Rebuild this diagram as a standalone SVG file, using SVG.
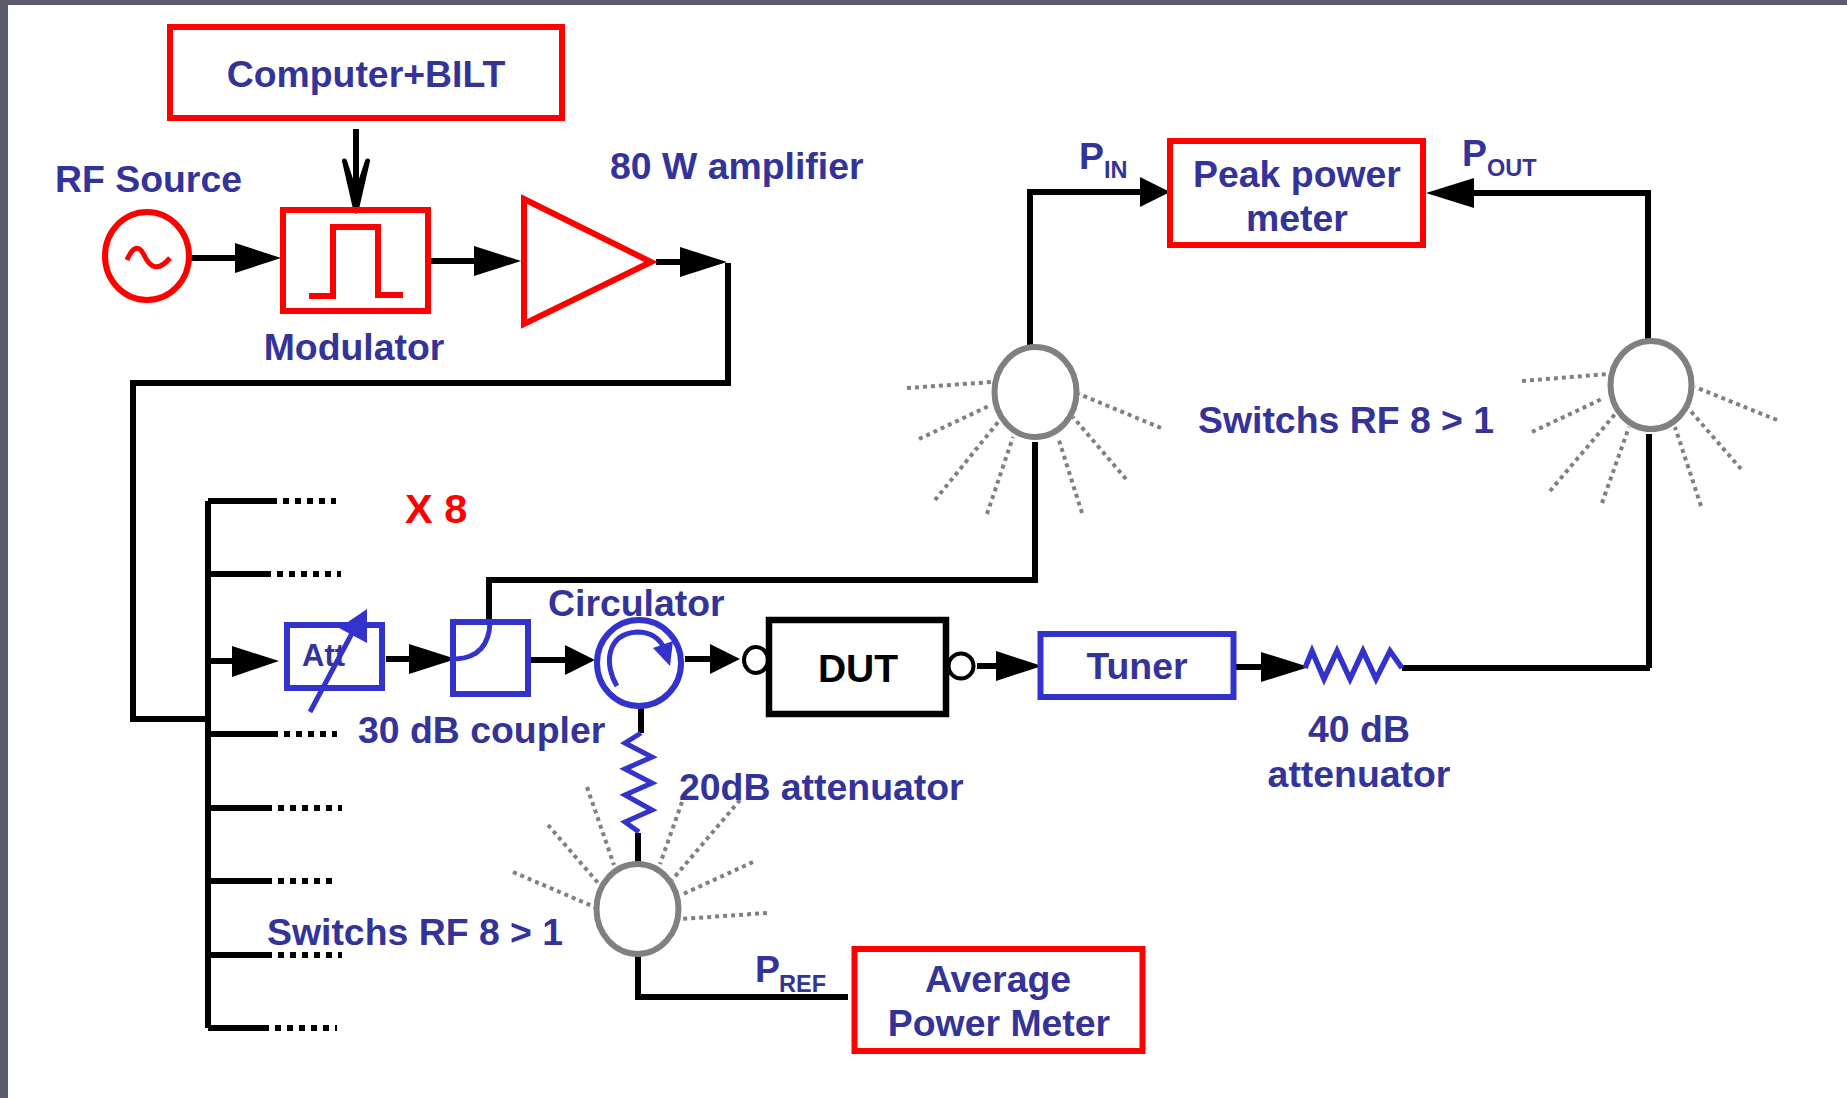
<svg xmlns="http://www.w3.org/2000/svg" width="1847" height="1098" viewBox="0 0 1847 1098">
<style>
text{font-family:"Liberation Sans",Arial,sans-serif;font-weight:700;font-size:37.400px;fill:#333399}
.sub{font-size:23.500px}
.red{fill:none;stroke:#ff0000;stroke-width:6}
.blue{fill:none;stroke:#3333cc;stroke-width:6}
.blk{fill:none;stroke:#000;stroke-width:6}
.sw{fill:#fff;stroke:#808080;stroke-width:6}
.spoke{fill:none;stroke:#808080;stroke-width:4;stroke-dasharray:4 4}
.dots{fill:none;stroke:#000;stroke-width:6;stroke-dasharray:6 6;stroke-dashoffset:6}
.head{fill:#000}
</style>
<rect width="1847" height="1098" fill="#fff"/>
<rect width="1847" height="5" fill="#5a5c6e"/>
<rect width="8" height="1098" fill="#5a5c6e"/>
<g id="connectors">
<path class="blk" d="M356 129V205"/>
<path d="M344.500 161L356 211L367.500 161L356 196Z" fill="#000" stroke="#000" stroke-width="5" stroke-linejoin="round"/>
<path class="blk" d="M191 258H236"/><path class="head" d="M235 243L281 258L235 273Z"/>
<path class="blk" d="M431 261H476"/><path class="head" d="M474 246L521 261L474 276Z"/>
<path class="blk" d="M656 262H682"/><path class="head" d="M680 247L727 262L680 277Z"/>
<path class="blk" d="M728 263V383H133V719H208"/>
<path class="blk" d="M208 501V1028"/>
<path class="blk" d="M208 501H277M208 574H271M208 734H278M208 808H272M208 881H272M208 955H272M208 1028H269"/>
<path class="dots" d="M277 501H336M271 574H341M278 734H337M272 808H342M272 881H337M272 955H342M269 1028H337"/>
<path class="blk" d="M208 661H234"/><path class="head" d="M232 646L279 661L232 677Z"/>
<path class="blk" d="M386 659H411"/><path class="head" d="M409 644L456 659L409 674Z"/>
<path class="blk" d="M489 622V580H1035V442"/>
<path class="blk" d="M526 660H567"/><path class="head" d="M565 645L595 660L565 675Z"/>
<path class="blk" d="M685 659H712"/><path class="head" d="M710 644L740 659L710 674Z"/>
<path class="blk" d="M977 666H998"/><path class="head" d="M996 651L1042 666L996 681Z"/>
<path class="blk" d="M1236 667H1263"/><path class="head" d="M1261 652L1309 667L1261 682Z"/>
<path class="blk" d="M1402 668H1650M1649 668V434"/>
<path class="blk" d="M1030 345V192H1142"/><path class="head" d="M1140 177L1170 192L1140 207Z"/>
<path class="blk" d="M1648 344V193H1472"/><path class="head" d="M1474 178L1426 193L1474 208Z"/>
<path class="blk" d="M641 705V733"/>
<path class="blk" d="M638 833V862"/>
<path class="blk" d="M638 956V997H848"/>
</g>
<g id="computer"><rect class="red" x="170" y="27" width="392" height="91"/><text x="366" y="87" text-anchor="middle">Computer+BILT</text></g>
<g id="rf-source"><text x="55" y="192">RF Source</text><ellipse class="red" cx="147" cy="256" rx="42" ry="44"/><path class="red" d="M127 260C133 246 139 245 144 255C150 268 158 272 170 258" style="stroke-width:5"/></g>
<g id="modulator"><rect class="red" x="283" y="210" width="145" height="101"/><path class="red" d="M309 296H333V227H378V295H403"/><text x="354" y="360" text-anchor="middle">Modulator</text></g>
<g id="amplifier"><path class="red" d="M524 199L651 262L524 324Z"/><text x="610" y="179">80 W amplifier</text></g>
<g id="x8"><text x="405" y="523" style="fill:#ff0000;font-size:41.500px">X 8</text></g>
<g id="att"><rect class="blue" x="287" y="625" width="95" height="63"/><text x="302" y="666" style="font-size:31px">Att</text><path fill="none" stroke="#3333cc" stroke-width="5" d="M310 712L358 622"/><path fill="#3333cc" d="M367 609L339 628L367 643Z"/></g>
<g id="coupler"><rect class="blue" x="453" y="622" width="75" height="72"/><path fill="none" stroke="#3333cc" stroke-width="5" d="M456 659Q489 657 490 622"/><text x="358" y="743">30 dB coupler</text></g>
<g id="circulator"><ellipse class="blue" cx="639" cy="663" rx="42" ry="43"/><path fill="none" stroke="#3333cc" stroke-width="5" d="M617 686C604 665 606 634 637 632C650 632 660 638 665 650"/><path fill="#3333cc" d="M653 648L673 641L670 666Z"/><text x="548" y="616">Circulator</text></g>
<g id="dut"><ellipse cx="756" cy="660" rx="12" ry="13" fill="#fff" stroke="#000" stroke-width="4"/><ellipse cx="961" cy="666" rx="12.500" ry="12.500" fill="#fff" stroke="#000" stroke-width="4"/><rect x="769" y="620" width="177" height="94" fill="#fff" stroke="#000" stroke-width="6.500"/><text x="858" y="682" text-anchor="middle" style="fill:#000;font-size:39px">DUT</text></g>
<g id="tuner"><rect class="blue" x="1040.500" y="634" width="193" height="63"/><text x="1137" y="679" text-anchor="middle">Tuner</text></g>
<g id="attenuator-40"><path fill="none" stroke="#3333cc" stroke-width="5.500" d="M1305 668L1312 651L1324 679L1337 651L1350 679L1363 651L1376 679L1390 651L1402 668"/><text x="1359" y="742" text-anchor="middle">40 dB</text><text x="1359" y="787" text-anchor="middle">attenuator</text></g>
<g id="switch-in"><path class="spoke" d="M907 388L992 382M919 439L991 405M935 500L999 421M987 514L1013 437M1082 513L1058 437M1126 479L1073 417M1161 428L1079 394"/><ellipse class="sw" cx="1035.500" cy="392" rx="41" ry="45"/></g>
<g id="switch-out"><path class="spoke" d="M1522 381L1608 374M1532 432L1604 398M1550 491L1616 413M1602 503L1629 427M1701 506L1675 427M1741 469L1688 408M1777 420L1695 387"/><ellipse class="sw" cx="1651" cy="385" rx="40.500" ry="44"/></g>
<text x="1198" y="433">Switchs RF 8 &gt; 1</text>
<g id="peak-power-meter"><rect class="red" x="1170" y="141" width="253" height="104"/><text x="1297" y="187" text-anchor="middle">Peak power</text><text x="1297" y="231" text-anchor="middle">meter</text></g>
<g id="p-in"><text x="1079" y="169">P</text><text class="sub" x="1104" y="178">IN</text></g>
<g id="p-out"><text x="1462" y="166">P</text><text class="sub" x="1487" y="176">OUT</text></g>
<g id="switch-ref"><path class="spoke" d="M513 872L594.500 907M548 825L599 884M587 787L614 865M682 802L660 864M740 800L672 880M753 862L681 895M767 913L681 919"/><ellipse class="sw" cx="637.500" cy="909" rx="41" ry="45"/></g>
<g id="attenuator-20"><path fill="none" stroke="#3333cc" stroke-width="5" d="M641 733L625 743L652 757L625 769L652 783L625 795L652 810L625 822L639 832"/><text x="679" y="800">20dB attenuator</text></g>
<text x="267" y="945">Switchs RF 8 &gt; 1</text>
<g id="p-ref"><text x="755" y="982">P</text><text class="sub" x="779" y="992">REF</text></g>
<g id="average-power-meter"><rect class="red" x="854.500" y="949" width="288" height="102"/><text x="998" y="992" text-anchor="middle">Average</text><text x="999" y="1036" text-anchor="middle">Power Meter</text></g>
</svg>
